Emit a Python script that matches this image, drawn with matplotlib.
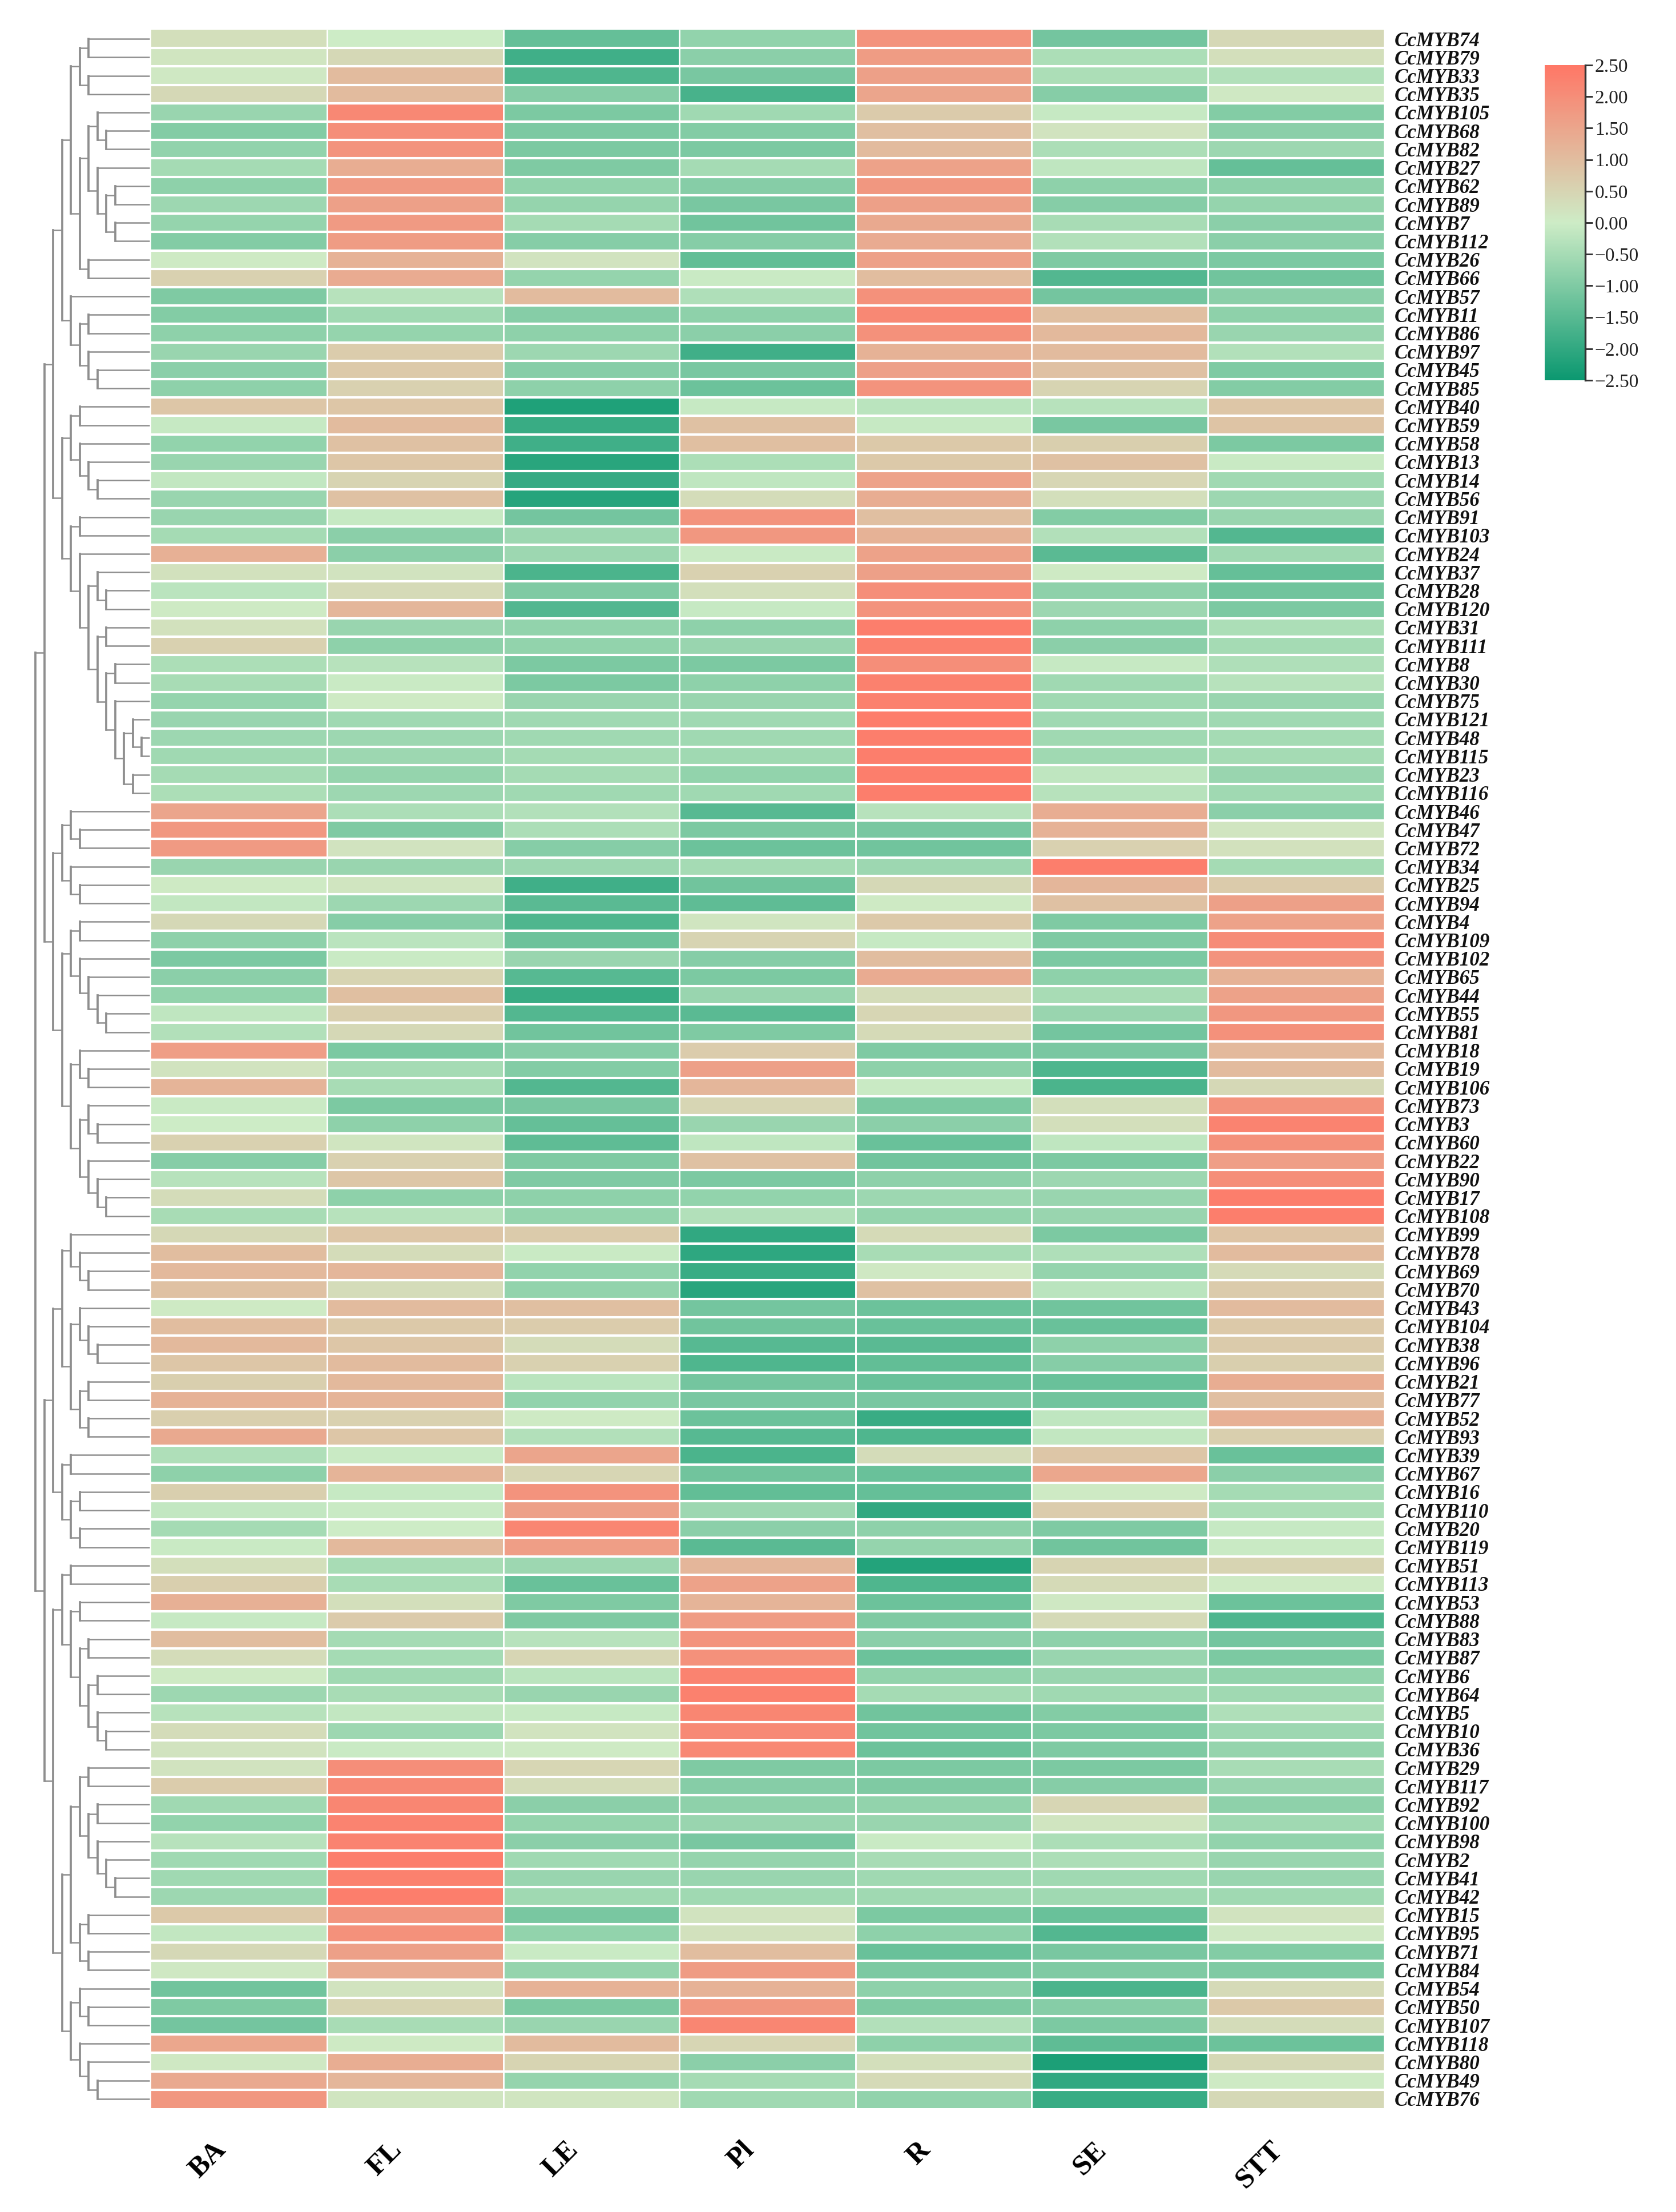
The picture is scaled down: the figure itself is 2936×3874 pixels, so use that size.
import numpy as np
import matplotlib
matplotlib.use('Agg')
import matplotlib.pyplot as plt
from matplotlib.colors import LinearSegmentedColormap

plt.rcParams['font.family'] = ['Liberation Serif', 'DejaVu Serif']

W, H = 2936, 3874
tissues = ['BA', 'FL', 'LE', 'Pl', 'R', 'SE', 'STT']
cbar_ticks = [-2.5, -2.0, -1.5, -1.0, -0.5, 0.0, 0.5, 1.0, 1.5, 2.0, 2.5]
heat_colors = ['#0b9870', '#cdecc6', '#ff7766']

# gene numbers, top to bottom
ids_a = [74, 79, 33, 35, 105, 68, 82, 27, 62, 89, 7, 112, 26, 66, 57, 11, 86, 97, 45, 85]
ids_b = [40, 59, 58, 13, 14, 56, 91, 103, 24, 37, 28, 120, 31, 111, 8, 30, 75, 121, 48, 115, 23, 116]
ids_c = [46, 47, 72, 34, 25, 94, 4, 109, 102, 65, 44, 55, 81, 18, 19, 106, 73, 3, 60, 22, 90, 17, 108]
ids_d = [99, 78, 69, 70, 43, 104, 38, 96, 21, 77, 52, 93, 39, 67, 16, 110, 20, 119, 51, 113, 53, 88, 83, 87]
ids_e = [6, 64, 5, 10, 36, 29, 117, 92, 100, 98, 2, 41, 42, 15, 95, 71, 84, 54, 50, 107, 118, 80, 49, 76]

# expression per row: BA, FL, LE, Pl, R, SE, STT
vals_a = [
    [0.3, 0.0, -1.4, -0.8, 2.0, -1.2, 0.45],
    [0.15, 0.45, -1.9, -0.9, 1.8, -0.45, 0.3],
    [0.1, 1.1, -1.7, -1.15, 1.7, -0.45, -0.35],
    [0.45, 1.1, -0.95, -1.8, 1.6, -0.95, 0.1],
    [-0.7, 2.25, -1.1, -0.6, 0.75, -0.1, -1.0],
    [-1.0, 2.1, -1.1, -1.0, 1.0, 0.2, -0.9],
    [-0.8, 2.0, -1.1, -1.1, 1.1, -0.45, -0.65],
    [-0.55, 1.4, -1.05, -0.55, 1.65, -0.2, -1.4],
    [-0.85, 1.85, -0.8, -0.95, 1.9, -0.85, -0.85],
    [-0.65, 1.7, -0.75, -1.15, 1.7, -0.95, -0.75],
    [-0.75, 1.85, -0.55, -1.25, 1.5, -0.5, -0.9],
    [-1.0, 1.8, -0.95, -0.95, 1.45, -0.35, -0.9],
    [0.05, 1.3, 0.2, -1.45, 1.7, -1.05, -1.1],
    [0.6, 1.45, -0.75, -0.05, 1.05, -1.65, -1.25],
    [-1.05, -0.3, 1.1, -0.4, 2.05, -1.2, -0.9],
    [-1.0, -0.6, -0.95, -0.85, 2.25, 1.0, -0.85],
    [-0.85, -0.75, -0.85, -0.9, 2.05, 1.15, -0.7],
    [-0.7, 0.7, -0.65, -1.9, 1.3, 1.1, -0.35],
    [-0.9, 0.8, -0.95, -1.15, 1.7, 0.95, -1.05],
    [-0.85, 0.6, -0.85, -1.3, 2.0, 0.55, -1.0],
]
vals_b = [
    [0.85, 0.85, -2.35, -0.1, -0.25, -0.3, 0.85],
    [-0.1, 1.1, -2.0, 0.95, -0.1, -1.15, 0.9],
    [-0.8, 0.95, -1.9, 1.0, 0.8, 0.65, -1.1],
    [-0.7, 0.85, -2.2, -0.45, 0.8, 0.95, -0.05],
    [-0.15, 0.55, -2.05, -0.2, 1.65, 0.5, -0.6],
    [-0.7, 0.95, -2.25, 0.35, 1.4, 0.3, -0.65],
    [-0.7, -0.1, -1.2, 2.0, 1.0, -1.0, -0.7],
    [-0.55, -0.9, -0.65, 1.9, 1.3, -0.35, -1.65],
    [1.35, -0.9, -0.65, -0.05, 1.65, -1.55, -0.6],
    [0.25, 0.2, -1.75, 0.6, 1.7, 0.05, -1.4],
    [-0.25, 0.4, -1.05, 0.3, 2.1, -0.85, -1.25],
    [0.05, 1.2, -1.65, -0.1, 2.0, -0.65, -1.1],
    [0.25, -0.7, -0.8, -0.85, 2.45, -0.85, -0.45],
    [0.6, -0.85, -0.8, -0.7, 2.4, -0.9, -0.55],
    [-0.45, -0.3, -1.1, -1.1, 2.1, -0.1, -0.4],
    [-0.5, -0.05, -1.1, -0.85, 2.4, -0.6, -0.3],
    [-0.75, 0.05, -0.7, -0.7, 2.4, -0.6, -0.7],
    [-0.7, -0.6, -0.6, -0.6, 2.5, -0.6, -0.6],
    [-0.65, -0.65, -0.6, -0.6, 2.45, -0.6, -0.55],
    [-0.6, -0.65, -0.55, -0.6, 2.45, -0.6, -0.55],
    [-0.55, -0.75, -0.55, -0.8, 2.45, -0.2, -0.7],
    [-0.45, -0.65, -0.6, -0.6, 2.45, -0.3, -0.6],
]
vals_c = [
    [1.6, -0.45, -0.35, -1.6, -0.3, 1.4, -0.9],
    [1.9, -1.05, -0.45, -1.1, -1.15, 1.3, 0.15],
    [1.85, 0.2, -0.95, -1.3, -1.25, 0.6, 0.25],
    [-0.7, -0.7, -0.65, -0.55, -0.65, 2.45, -0.55],
    [0.05, 0.15, -1.9, -1.25, 0.45, 1.2, 0.75],
    [-0.15, -0.65, -1.55, -1.5, 0.05, 0.95, 1.7],
    [0.45, -0.95, -1.7, 0.15, 0.8, -1.05, 1.65],
    [-0.85, -0.25, -1.3, 0.55, -0.1, -1.05, 2.15],
    [-1.1, -0.05, -0.7, -0.95, 1.05, -1.1, 2.0],
    [-0.9, 0.55, -1.6, -1.1, 1.45, -0.85, 1.3],
    [-0.8, 1.0, -2.0, -0.7, 0.35, -0.5, 1.65],
    [-0.2, 0.65, -1.65, -1.55, 0.5, -0.7, 1.9],
    [-0.35, 0.45, -1.25, -1.05, 0.4, -1.2, 2.05],
    [1.75, -1.1, -0.95, 0.7, -1.05, -1.15, 1.15],
    [0.2, -0.55, -1.0, 1.7, -0.85, -1.7, 1.1],
    [1.25, -0.5, -1.65, 1.2, -0.05, -1.75, 0.45],
    [-0.05, -1.1, -1.15, 0.5, -1.1, 0.3, 2.0],
    [0.0, -0.85, -1.4, -0.7, -0.9, 0.3, 2.35],
    [0.6, 0.15, -1.5, -0.2, -1.35, -0.2, 2.05],
    [-0.95, 0.6, -1.05, 0.95, -1.25, -1.1, 1.75],
    [-0.3, 0.85, -1.05, -1.1, -0.85, -0.65, 2.1],
    [0.35, -0.85, -0.85, -0.8, -0.65, -0.7, 2.45],
    [-0.5, -0.3, -0.75, -0.35, -0.75, -0.7, 2.45],
]
vals_d = [
    [0.45, 0.85, 0.75, -2.1, 0.4, -1.1, 0.9],
    [1.05, 0.35, -0.05, -2.15, -0.5, -0.4, 1.1],
    [1.15, 1.2, -0.8, -2.0, 0.1, -0.75, 0.4],
    [0.95, 0.35, -0.8, -2.2, 0.95, -0.25, 0.75],
    [0.05, 1.1, 1.0, -1.2, -1.3, -1.25, 1.1],
    [1.05, 0.8, 0.7, -1.25, -1.35, -1.35, 0.8],
    [1.15, 0.85, 0.35, -1.6, -1.55, -0.85, 0.75],
    [0.85, 1.1, 0.6, -1.7, -1.45, -0.95, 0.65],
    [0.65, 1.15, -0.25, -1.2, -1.35, -1.35, 1.4],
    [1.3, 1.25, -0.8, -1.15, -1.15, -1.25, 1.0],
    [0.65, 0.6, 0.05, -1.3, -2.0, -0.2, 1.35],
    [1.5, 0.85, -0.35, -1.6, -1.7, -0.15, 0.65],
    [-0.4, -0.05, 1.6, -1.75, 0.35, 0.85, -1.35],
    [-0.85, 1.25, 0.5, -1.25, -1.35, 1.55, -0.9],
    [0.65, -0.1, 2.0, -1.45, -1.4, 0.05, -0.55],
    [-0.15, -0.05, 1.7, -0.65, -2.1, 0.7, -0.45],
    [-0.55, 0.0, 2.3, -0.9, -0.85, -1.05, -0.1],
    [-0.05, 1.15, 1.75, -1.55, -0.75, -1.25, -0.05],
    [0.3, -0.5, -0.65, 1.2, -2.3, 0.55, 0.55],
    [0.65, -0.5, -1.35, 1.65, -1.7, 0.4, 0.05],
    [1.35, 0.3, -1.05, 1.25, -1.3, 0.1, -1.3],
    [-0.1, 0.75, -1.05, 1.8, -1.05, 0.4, -1.7],
    [1.05, -0.55, -0.3, 2.0, -0.9, -0.85, -1.2],
    [0.35, -0.55, 0.5, 2.05, -1.3, -0.7, -1.1],
]
vals_e = [
    [0.05, -0.6, -0.25, 2.35, -0.8, -0.7, -0.8],
    [-0.65, -0.5, -0.7, 2.4, -0.55, -0.6, -0.6],
    [-0.3, -0.15, -0.1, 2.3, -1.25, -1.0, -0.4],
    [0.35, -0.65, 0.2, 2.2, -1.25, -1.1, -0.65],
    [0.2, -0.05, 0.05, 2.25, -1.3, -1.05, -0.75],
    [0.2, 2.1, 0.5, -1.05, -1.1, -1.1, -0.5],
    [0.7, 2.2, 0.35, -0.95, -1.05, -0.95, -0.7],
    [-0.6, 2.3, -0.9, -0.85, -0.8, 0.5, -0.85],
    [-0.8, 2.35, -0.75, -0.7, -0.7, 0.15, -0.6],
    [-0.3, 2.35, -0.9, -1.15, -0.05, -0.45, -0.8],
    [-0.6, 2.45, -0.6, -0.75, -0.5, -0.45, -0.7],
    [-0.6, 2.4, -0.7, -0.7, -0.6, -0.6, -0.7],
    [-0.65, 2.45, -0.6, -0.6, -0.6, -0.6, -0.6],
    [0.8, 1.95, -1.15, 0.2, -1.1, -1.35, 0.2],
    [-0.15, 2.05, -0.8, 0.25, -0.85, -1.65, 0.1],
    [0.45, 1.7, -0.05, 1.05, -1.35, -1.15, -1.0],
    [0.1, 1.45, -0.75, 1.8, -1.1, -1.05, -1.05],
    [-1.25, 0.2, 1.3, 1.3, -0.85, -1.75, 0.4],
    [-1.05, 0.55, -1.1, 1.9, -1.05, -0.95, 0.8],
    [-1.2, -0.5, -0.7, 2.3, -0.35, -1.1, 0.35],
    [1.55, 0.05, 1.1, 0.5, -0.85, -1.5, -1.3],
    [0.1, 1.4, 0.55, -0.9, 0.3, -2.4, 0.45],
    [1.5, 1.2, -0.75, -0.55, 0.4, -2.1, 0.05],
    [1.9, 0.15, 0.15, -0.6, -0.8, -2.0, 0.45],
]

# row clustering, each dot is one leaf in row order
tree_a1 = '(((..)(..))(((.(..))(.((..)(..))))(..)))'
tree_a2 = '(.((..)(.(..))))'
tree_a3 = '((..)(.(.(..))))'
tree_a4 = '((..)(.((.(..))((..)((..)(.((.(..))(..))))))))'
tree_b1 = '((.(..))(.(..)))'
tree_b2 = '((..)(.(.(.(..)))))'
tree_b3 = '((.(..))((.(..))(.(.(..)))))'
tree_c1 = '(.(.(..)))'
tree_c2 = '((.(.(..)))((..)(..)))'
tree_c3 = '(..)'
tree_c4 = '((..)(..))'
tree_d1 = '(..)'
tree_d2 = '((..)((..)((..)(.(..)))))'
tree_d3 = '((..)((..)(.(.(..)))))'
tree_d4 = '((..)(..))'
tree_d5 = '(.(..))'
tree_d6 = '(.(.(..)))'

tree_a = f'(({tree_a1}{tree_a2})({tree_a3}{tree_a4}))'
tree_b = f'({tree_b1}({tree_b2}{tree_b3}))'
tree_c = f'(({tree_c1}{tree_c2})({tree_c3}{tree_c4}))'
tree_d = f'(({tree_d1}{tree_d2})(({tree_d3}{tree_d4})({tree_d5}{tree_d6})))'
tree = f'(({tree_a}{tree_b})({tree_c}{tree_d}))'

genes = ['CcMYB%d' % g for g in ids_a + ids_b + ids_c + ids_d + ids_e]
# my colour readings came out a little strong against the reference
data = np.array(vals_a + vals_b + vals_c + vals_d + vals_e) * 0.95
n_rows, n_cols = data.shape


def px_axes(left, top, right, bottom):
    return fig.add_axes([left / W, 1 - bottom / H, (right - left) / W, (bottom - top) / H])


fig = plt.figure(figsize=(W / 300, H / 300), dpi=300)
cmap = LinearSegmentedColormap.from_list('heat', heat_colors)

ax = px_axes(265, 52, 2424, 3692)
mesh = ax.pcolormesh(np.arange(n_cols + 1), np.arange(n_rows + 1), data, cmap=cmap, vmin=-2.5, vmax=2.5)
ax.set_ylim(n_rows, 0)
ax.set_xlim(0, n_cols)
ax.hlines(np.arange(1, n_rows), 0, n_cols, color='white', lw=1.0)
ax.vlines(np.arange(1, n_cols), 0, n_rows, color='white', lw=0.7)
for s in ax.spines.values():
    s.set_visible(False)
ax.set_xticks(np.arange(n_cols) + 0.4)
ax.set_xticklabels(tissues, rotation=45, ha='right', va='center', rotation_mode='anchor',
                   fontsize=12, fontweight='bold')
ax.tick_params(axis='x', length=0, pad=16)
ax.yaxis.tick_right()
ax.set_yticks(np.arange(n_rows) + 0.5)
ax.set_yticklabels(genes, fontsize=8.4, fontweight='bold', fontstyle='italic', color='#111111')
ax.tick_params(axis='y', length=0, pad=4.5)

# dendrogram, one depth step is 15.5 px
den = px_axes(50, 52, 262, 3692)
leaf_depth = (262 - 62) / 15.5
den.set_xlim((50 - 62) / 15.5, leaf_depth)
den.set_ylim(n_rows, 0)
den.axis('off')
line_col = '#8e8e8e'
pos = 0
leaf = 0


def draw(depth):
    global pos, leaf
    pos += 1  # opening bracket
    ys = []
    while tree[pos] != ')':
        if tree[pos] == '.':
            y = leaf + 0.5
            leaf += 1
            pos += 1
            end = leaf_depth
        else:
            y = draw(depth + 1)
            end = depth + 1
        den.plot([depth, end], [y, y], color=line_col, lw=0.6, clip_on=False, solid_capstyle='butt')
        ys.append(y)
    pos += 1
    den.plot([depth, depth], [ys[0], ys[-1]], color=line_col, lw=0.9, clip_on=False, solid_capstyle='projecting')
    return (ys[0] + ys[-1]) / 2


draw(0)

cax = px_axes(2706, 114, 2777, 666)
cbar = fig.colorbar(mesh, cax=cax, ticks=cbar_ticks)
cbar.outline.set_visible(False)
cax.spines['right'].set_visible(True)
cax.spines['right'].set_color('#333333')
cax.spines['right'].set_linewidth(0.8)
cax.set_yticks(cbar_ticks, labels=[('%.2f' % t).replace('-', '\u2212') for t in cbar_ticks])
cax.tick_params(axis='y', length=3, width=0.7, color='#333333', labelsize=8, pad=1, labelcolor='#222222')

fig.savefig('out.png', dpi=300)
